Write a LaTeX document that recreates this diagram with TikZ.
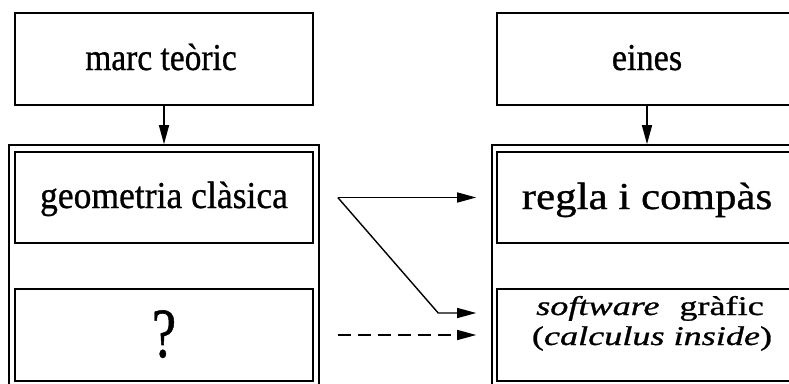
\documentclass[tikz,border=0pt]{standalone}
\usepackage{fontspec}
\setmainfont{Liberation Serif}[FakeBold=0.8]
\usetikzlibrary{arrows.meta}
\begin{document}
\begin{tikzpicture}[x=1pt,y=-1pt,
  box/.style={draw, line width=1.6pt, rectangle, inner sep=0pt},
  lbl/.style={anchor=base, inner sep=0pt, font=\fontsize{38}{40}\selectfont},
  small/.style={anchor=base, inner sep=0pt, font=\fontsize{27}{30}\selectfont},
  conn/.style={line width=1.4pt, -{Triangle[length=19pt,width=10pt]}},
  dashline/.style={dash pattern=on 13pt off 7pt},
]
\useasboundingbox (0,0) rectangle (789,383);
\fill[white] (0,0) rectangle (789,383);
\clip (0,0) rectangle (789,383);

% top boxes
\node[box, minimum width=298pt, minimum height=92pt] (marc) at (164,59) {};
\node[box, minimum width=300pt, minimum height=92pt] (eines) at (647,59) {};

% outer frames
\node[box, minimum width=310pt, minimum height=255pt] (lout) at (164,272.5) {};
\node[box, minimum width=310pt, minimum height=255pt] (rout) at (647,272.5) {};

% inner boxes
\node[box, minimum width=298pt, minimum height=91pt] (geo) at (164,197.5) {};
\node[box, minimum width=298pt, minimum height=92pt] (quest) at (164,335) {};
\node[box, minimum width=300pt, minimum height=91pt] (regla) at (647,197.5) {};
\node[box, minimum width=300pt, minimum height=92pt] (soft) at (647,335) {};

% labels
\node[lbl] (marc-t) at ([xshift=-3pt,yshift=-11pt]marc.center) {\scalebox{0.88}[1]{marc teòric}};
\node[lbl] (eines-t) at ([yshift=-11pt]eines.center) {\scalebox{0.9}[1]{eines}};
\node[lbl] (geo-t) at ([yshift=-10.5pt]geo.center) {\scalebox{0.936}[1]{geometria clàsica}};
\node[lbl] (regla-t) at ([yshift=-11.5pt]regla.center) {\scalebox{1.13}[1]{regla i compàs}};
\node[anchor=base, inner sep=0pt, font=\fontsize{64}{66}\selectfont] (quest-t)
  at ([yshift=-22pt]quest.center) {\scalebox{0.85}[1.1]{?}};
\node[small] (soft-t1) at ([xshift=3pt,yshift=20pt]soft.center)
  {\scalebox{1.34}[1]{\textit{software}\hspace{0.55em}gràfic}};
\node[small] (soft-t2) at ([xshift=5pt,yshift=-10pt]soft.center)
  {\scalebox{1.34}[1]{(\textit{calculus inside})}};

% vertical arrows
\draw[conn] (marc.south) -- (lout.north);
\draw[conn] (eines.south) -- (rout.north);

% connector end points
\coordinate (g-out) at ([xshift=24pt]geo.east);
\coordinate (r-in) at ([xshift=-20pt]regla.west);
\coordinate (bend) at ([xshift=-58pt,yshift=22pt]soft.west);
\coordinate (s-in) at ([xshift=-20pt,yshift=22pt]soft.west);
\coordinate (q-out) at ([xshift=24pt]quest.east);
\coordinate (s-in2) at ([xshift=-20pt]soft.west);

% horizontal connectors
\draw[conn] (g-out) -- (r-in);
\draw[conn] (g-out) -- (bend) -- (s-in);
\draw[conn, dashline] (q-out) -- (s-in2);
\end{tikzpicture}
\end{document}
